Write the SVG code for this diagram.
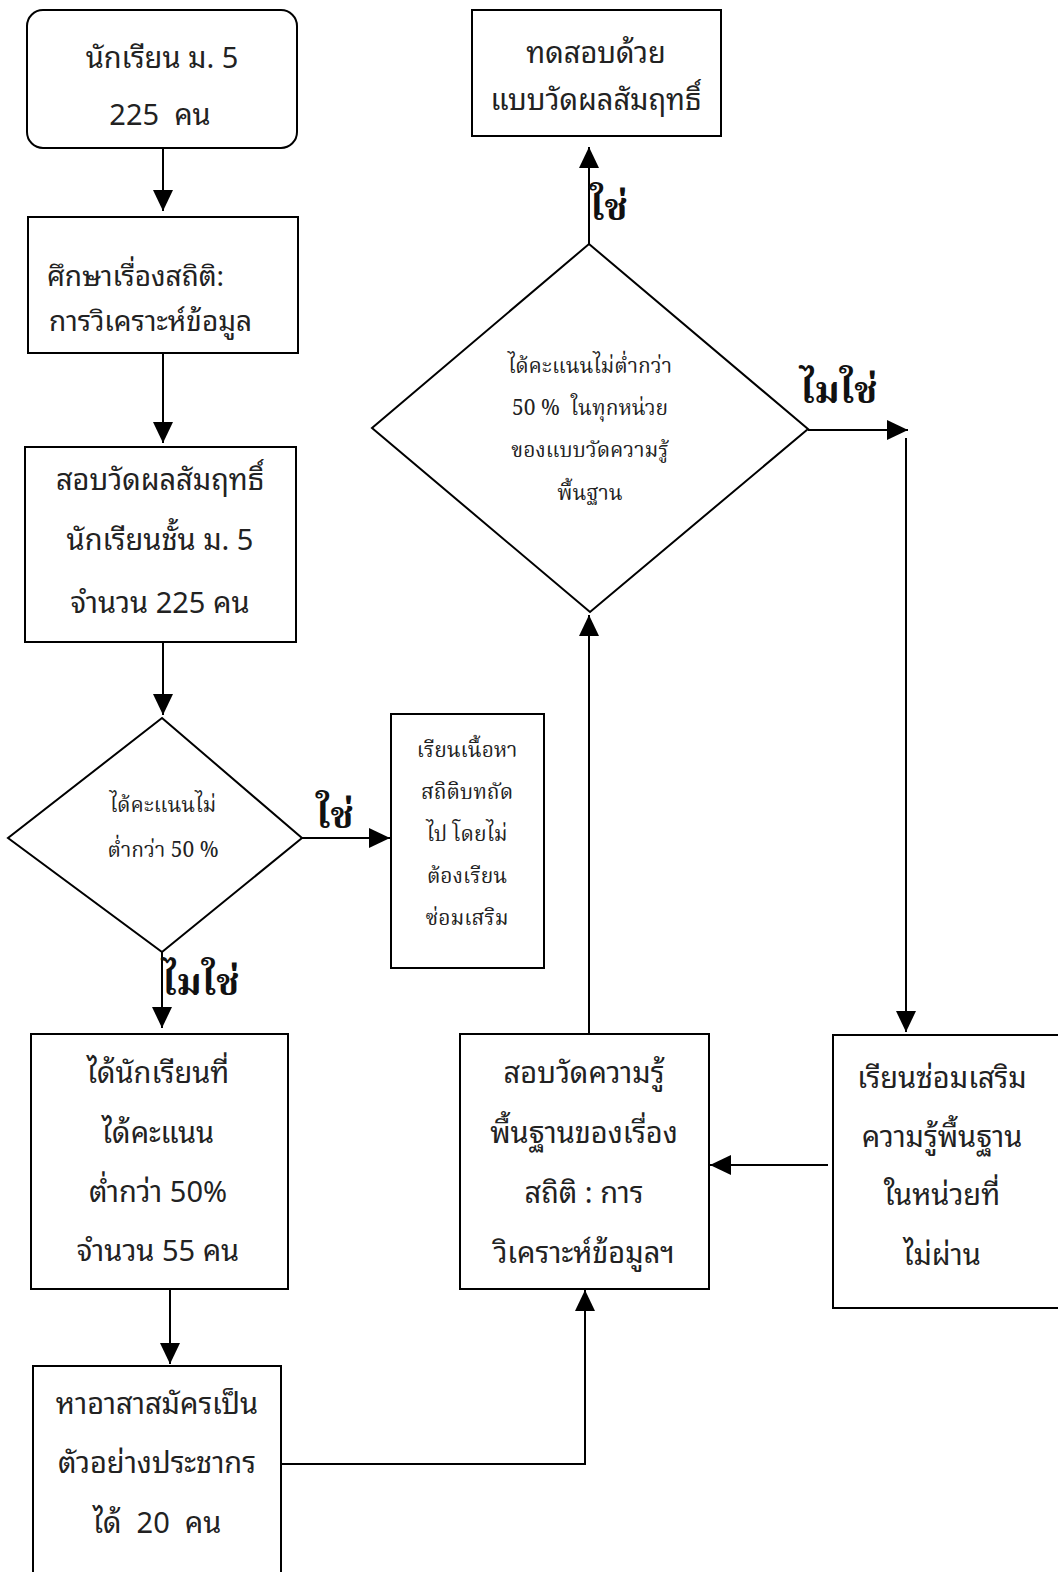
<svg xmlns="http://www.w3.org/2000/svg" width="1058" height="1572" viewBox="0 0 1058 1572">
<defs>
<marker id="ah" markerUnits="userSpaceOnUse" markerWidth="22" markerHeight="22" refX="21" refY="10" orient="auto" viewBox="0 0 22 20">
<path d="M0,0 L21,10 L0,20 z" fill="#000"/>
</marker>
<style>
.bx{fill:#fff;stroke:#000;stroke-width:2}
.ln{fill:none;stroke:#000;stroke-width:2}
.t{font-family:"Noto Sans Thai Looped","Noto Sans Thai","Loma","Garuda","Liberation Sans",sans-serif;font-size:29px;fill:#222;text-anchor:middle;white-space:pre}
.s{font-family:"Noto Serif Thai","Norasi","Kinnari","Liberation Serif",serif;font-size:21px;fill:#222;text-anchor:middle;white-space:pre}
.lb{font-family:"Noto Serif Thai","Norasi","Kinnari","Liberation Serif",serif;font-size:38px;font-weight:bold;fill:#111}
</style>
</defs>
<rect width="1058" height="1572" fill="#fff"/>
<g id="connectors">
<line class="ln" x1="163" y1="148" x2="163" y2="211" marker-end="url(#ah)"/>
<line class="ln" x1="163" y1="354" x2="163" y2="443" marker-end="url(#ah)"/>
<line class="ln" x1="163" y1="643" x2="163" y2="715" marker-end="url(#ah)"/>
<line class="ln" x1="302" y1="838" x2="390" y2="838" marker-end="url(#ah)"/>
<line class="ln" x1="162" y1="952" x2="162" y2="1028" marker-end="url(#ah)"/>
<line class="ln" x1="170" y1="1290" x2="170" y2="1364" marker-end="url(#ah)"/>
<polyline class="ln" points="281,1464 585,1464 585,1290" marker-end="url(#ah)"/>
<line class="ln" x1="589" y1="1034" x2="589" y2="615" marker-end="url(#ah)"/>
<line class="ln" x1="589" y1="244" x2="589" y2="147" marker-end="url(#ah)"/>
<line class="ln" x1="808" y1="430" x2="908" y2="430" marker-end="url(#ah)"/>
<line class="ln" x1="906" y1="438" x2="906" y2="1032" marker-end="url(#ah)"/>
<line class="ln" x1="828" y1="1165" x2="710" y2="1165" marker-end="url(#ah)"/>
</g>
<g id="n1"><rect class="bx" x="27" y="10" width="270" height="138" rx="16"/>
<text class="t" x="162" y="68">นักเรียน ม. 5</text>
<text class="t" x="160" y="125">225  คน</text></g>
<g id="n2"><rect class="bx" x="28" y="217" width="270" height="136"/>
<text class="t" x="47" y="286" style="text-anchor:start;font-size:28px">ศึกษาเรื่องสถิติ:</text>
<text class="t" x="49" y="331" style="text-anchor:start;font-size:28px">การวิเคราะห์ข้อมูล</text></g>
<g id="n3"><rect class="bx" x="25" y="447" width="271" height="195"/>
<text class="t" x="160" y="490">สอบวัดผลสัมฤทธิ์</text>
<text class="t" x="160" y="550">นักเรียนชั้น ม. 5</text>
<text class="t" x="160" y="613">จำนวน 225 คน</text></g>
<g id="d1"><polygon class="bx" points="162,718 302,838 162,952 8,838"/>
<text class="s" x="163" y="812">ได้คะแนนไม่</text>
<text class="s" x="163" y="857">ต่ำกว่า 50 %</text></g>
<g id="n4"><rect class="bx" x="391" y="714" width="153" height="254"/>
<text class="s" x="467" y="757">เรียนเนื้อหา</text>
<text class="s" x="467" y="799">สถิติบทถัด</text>
<text class="s" x="467" y="841">ไป โดยไม่</text>
<text class="s" x="467" y="883">ต้องเรียน</text>
<text class="s" x="467" y="925">ซ่อมเสริม</text></g>
<g id="n5"><rect class="bx" x="31" y="1034" width="257" height="255"/>
<text class="t" x="158" y="1083">ได้นักเรียนที่</text>
<text class="t" x="158" y="1143">ได้คะแนน</text>
<text class="t" x="158" y="1202">ต่ำกว่า 50%</text>
<text class="t" x="158" y="1261">จำนวน 55 คน</text></g>
<g id="n6"><rect class="bx" x="33" y="1366" width="248" height="220"/>
<text class="t" x="157" y="1414">หาอาสาสมัครเป็น</text>
<text class="t" x="157" y="1473">ตัวอย่างประชากร</text>
<text class="t" x="157" y="1533">ได้  20  คน</text></g>
<g id="n7"><rect class="bx" x="460" y="1034" width="249" height="255"/>
<text class="t" x="584" y="1083">สอบวัดความรู้</text>
<text class="t" x="584" y="1143">พื้นฐานของเรื่อง</text>
<text class="t" x="584" y="1203">สถิติ : การ</text>
<text class="t" x="584" y="1263">วิเคราะห์ข้อมูลฯ</text></g>
<g id="n8"><rect class="bx" x="833" y="1035" width="240" height="273"/>
<text class="t" x="942" y="1088">เรียนซ่อมเสริม</text>
<text class="t" x="942" y="1147">ความรู้พื้นฐาน</text>
<text class="t" x="942" y="1205">ในหน่วยที่</text>
<text class="t" x="942" y="1265">ไม่ผ่าน</text></g>
<g id="d2"><polygon class="bx" points="589,244 808,429 590,612 372,428"/>
<text class="s" x="590" y="373">ได้คะแนนไม่ต่ำกว่า</text>
<text class="s" x="590" y="415">50 %  ในทุกหน่วย</text>
<text class="s" x="590" y="457">ของแบบวัดความรู้</text>
<text class="s" x="590" y="500">พื้นฐาน</text></g>
<g id="n9"><rect class="bx" x="472" y="10" width="249" height="126"/>
<text class="t" x="596" y="63">ทดสอบด้วย</text>
<text class="t" x="596" y="110">แบบวัดผลสัมฤทธิ์</text></g>
<g id="labels">
<text class="lb" x="316" y="828">ใช่</text>
<text class="lb" x="162" y="995">ไมใช่</text>
<text class="lb" x="590" y="220">ใช่</text>
<text class="lb" x="800" y="403">ไมใช่</text>
</g>
</svg>
